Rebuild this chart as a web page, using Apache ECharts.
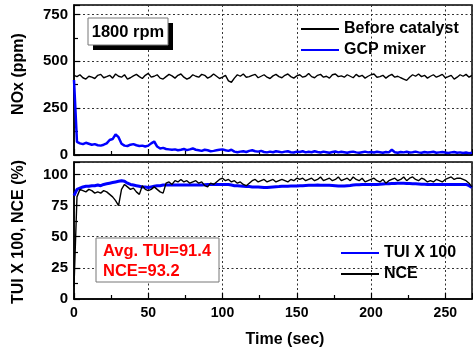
<!DOCTYPE html>
<html><head><meta charset="utf-8">
<script src="https://cdn.jsdelivr.net/npm/echarts@6/dist/echarts.min.js"></script>
<style>html,body{margin:0;padding:0;background:#fff}#c{width:473px;height:352px}</style>
</head><body><div id="c"></div>
<script>
const timeSec = [0,2,4,6,8,10,12,14,16,18,20,22,24,26,28,30,32,34,36,38,40,42,44,46,48,50,52,54,56,58,60,62,64,66,68,70,72,74,76,78,80,82,84,86,88,90,92,94,96,98,100,102,104,106,108,110,112,114,116,118,120,122,124,126,128,130,132,134,136,138,140,142,144,146,148,150,152,154,156,158,160,162,164,166,168,170,172,174,176,178,180,182,184,186,188,190,192,194,196,198,200,202,204,206,208,210,212,214,216,218,220,222,224,226,228,230,232,234,236,238,240,242,244,246,248,250,252,254,256,258,260,262,264,266,268];

const beforeCatalyst = [425,418,428,412,405,420,415,408,425,430,412,
418,425,410,432,420,415,428,405,412,422,
430,418,408,425,435,415,420,428,410,405,
418,430,422,410,425,432,415,405,412,428,
420,415,430,425,410,418,432,420,408,415,
425,395,388,410,428,420,432,415,418,425,
430,412,420,428,415,408,422,430,418,412,
425,432,418,410,422,428,415,420,435,418,
412,425,430,415,420,410,428,432,418,422,
415,428,420,412,430,418,425,410,420,428,
432,415,418,425,410,422,430,415,420,412,
405,398,415,428,420,432,418,425,410,420,
428,415,422,430,412,418,425,405,415,428,
420,430,415,425];

const gcpMixer = [400,70,62,58,65,60,55,58,52,50,55,
62,80,85,110,95,60,50,48,55,58,
52,48,50,45,50,62,72,45,35,38,
32,30,28,30,25,28,32,26,30,35,
28,25,22,28,25,20,22,25,28,30,
25,22,28,18,15,18,20,16,22,25,
20,18,22,16,14,18,15,20,17,14,
18,20,15,13,18,16,20,14,17,15,
20,16,13,18,15,12,16,19,14,17,
15,12,16,18,14,12,15,18,14,16,
13,17,15,12,16,14,28,15,12,16,
14,17,13,15,18,14,12,16,13,15,
17,12,14,16,13,11,14,16,12,14,
11,13,10,12];

const tuiX100 = [83,88,89,90,90.5,90.5,91,91,91.5,91,92,
92.5,93,93.5,94,94.5,95,94.5,93,92,91.5,
91,90.5,90,90,89.5,90,90.5,91,91,91.5,
91.5,91.5,91.5,91.5,91.5,91.5,91.5,91.5,91.5,91.5,
91.5,91.5,91.5,91.8,92,92,92,92,92,92,
92,92,91.5,91,91,90.8,90.5,90.3,90.3,90,
90,90,89.8,89.5,89.5,89.8,90,90.2,90.3,90.5,
90.5,90.6,90.7,90.8,90.8,91,91,91.2,91.3,91.3,
91.4,91.5,91.4,91.3,91.3,91.3,91.2,91,90.8,90.8,
90.8,91,91.2,91.5,91.7,91.8,92,92,92,92,
92,92,92.2,92.4,92.5,92.6,92.7,92.8,92.9,92.9,
92.9,92.8,92.7,92.6,92.5,92.4,92.2,92.1,92,92,
92,92,92,92,92,92,92,92,92,92,
92,92,91,89.5];

const nce = [10,82,88,87,86,88,87,85,86,85,87,
86,84,82,79,75,88,92,90,88,89,
86,84,91,88,87,88,90,88,86,85,
93,94,92,95,94,96,94,95,93,94,
95,93,94,91,90,93,92,94,96,97,
95,96,94,95,93,94,92,91,93,95,
96,94,95,96,94,95,96,94,95,96,
95,94,96,95,97,96,97,95,96,97,
95,96,98,95,96,97,95,96,98,95,
96,97,95,98,96,95,97,94,95,96,
97,95,94,96,93,95,96,97,95,96,
98,95,97,98,96,95,97,96,94,95,
94,96,95,94,96,97,98,96,97,97,
96,95,93,90];

const xTicks = {min: 0, max: 268, interval: 50};
const noxTicks = {min: 0, max: 800, interval: 250};
const effTicks = {min: 0, max: 110, interval: 25};

const pairs = (ys) => timeSec.map((t, i) => [t, ys[i]]);

const FONT = 'Liberation Sans, Arial, sans-serif';
const gridLine = {show: true, lineStyle: {color: '#333', type: [2, 2.5], width: 1}};
const axLine = {show: true, lineStyle: {color: '#000', width: 1.5}};
const tick = {show: true, inside: true, length: 6, lineStyle: {color: '#000', width: 1.2}};
const minor = {show: true, splitNumber: 2, length: 4, lineStyle: {color: '#000', width: 1.2}};
const xlbl = {color: '#000', fontFamily: FONT, fontWeight: 'bold', fontSize: 14};
const ylbl = {color: '#000', fontFamily: FONT, fontWeight: 'bold', fontSize: 15};
const legText = {color: '#000', fontFamily: FONT, fontWeight: 'bold', fontSize: 16, lineHeight: 16};

const chart = echarts.init(document.getElementById('c'), null, {renderer: 'canvas'});
chart.setOption({
  animation: false,
  backgroundColor: '#fff',
  grid: [
    {left: 74, top: 5, width: 398, height: 150, show: true, borderColor: '#000', borderWidth: 1.5, backgroundColor: 'transparent'},
    {left: 74, top: 162, width: 398, height: 137, show: true, borderColor: '#000', borderWidth: 1.5, backgroundColor: 'transparent'}
  ],
  xAxis: [
    {type: 'value', gridIndex: 0, min: xTicks.min, max: xTicks.max, interval: xTicks.interval,
     axisLine: axLine, axisTick: tick, minorTick: minor, splitLine: gridLine,
     axisLabel: {show: false}},
    {type: 'value', gridIndex: 1, min: xTicks.min, max: xTicks.max, interval: xTicks.interval,
     axisLine: axLine, axisTick: tick, minorTick: minor, splitLine: gridLine,
     axisLabel: Object.assign({margin: 7, showMaxLabel: false}, xlbl)}
  ],
  yAxis: [
    {type: 'value', gridIndex: 0, min: noxTicks.min, max: noxTicks.max, interval: noxTicks.interval,
     axisLine: axLine, axisTick: tick, minorTick: minor, splitLine: gridLine,
     axisLabel: Object.assign({margin: 6, showMaxLabel: false}, ylbl)},
    {type: 'value', gridIndex: 1, min: effTicks.min, max: effTicks.max, interval: effTicks.interval,
     axisLine: axLine, axisTick: tick, minorTick: minor, splitLine: gridLine,
     axisLabel: Object.assign({margin: 6, showMaxLabel: false}, ylbl)}
  ],
  legend: [
    {left: 295, top: 16, orient: 'vertical', itemWidth: 38, itemHeight: 14, itemGap: 5,
     itemStyle: {opacity: 0}, data: ['Before catalyst', 'GCP mixer'], textStyle: legText},
    {left: 335, top: 240, orient: 'vertical', itemWidth: 38, itemHeight: 14, itemGap: 5,
     itemStyle: {opacity: 0}, data: ['TUI X 100', 'NCE'], textStyle: legText}
  ],
  series: [
    {name: 'Before catalyst', type: 'line', xAxisIndex: 0, yAxisIndex: 0, data: pairs(beforeCatalyst),
     showSymbol: false, symbol: 'none', lineStyle: {color: '#000', width: 1.4}, itemStyle: {color: '#000'}, z: 3},
    {name: 'GCP mixer', type: 'line', xAxisIndex: 0, yAxisIndex: 0, data: pairs(gcpMixer),
     showSymbol: false, symbol: 'none', lineStyle: {color: '#0000ff', width: 2.5}, itemStyle: {color: '#0000ff'}, z: 4},
    {name: 'TUI X 100', type: 'line', xAxisIndex: 1, yAxisIndex: 1, data: pairs(tuiX100),
     showSymbol: false, symbol: 'none', lineStyle: {color: '#0000ff', width: 3}, itemStyle: {color: '#0000ff'}, z: 3},
    {name: 'NCE', type: 'line', xAxisIndex: 1, yAxisIndex: 1, data: pairs(nce),
     showSymbol: false, symbol: 'none', lineStyle: {color: '#000', width: 1.4}, itemStyle: {color: '#000'}, z: 4}
  ],
  graphic: [
    {type: 'rect', shape: {x: 93, y: 23, width: 80, height: 27}, style: {fill: '#000'}, z: 10},
    {type: 'rect', shape: {x: 88, y: 18, width: 80, height: 27}, style: {fill: '#fff', stroke: '#777', lineWidth: 1}, z: 11},
    {type: 'text', x: 128, y: 32, style: {text: '1800 rpm', fill: '#000', font: 'bold 16.5px ' + FONT, textAlign: 'center', textVerticalAlign: 'middle'}, z: 12},
    {type: 'rect', shape: {x: 96, y: 238, width: 123, height: 44}, style: {fill: '#fff', stroke: '#777', lineWidth: 1}, z: 11},
    {type: 'text', x: 103, y: 251, style: {text: 'Avg. TUI=91.4', fill: '#ff0000', font: 'bold 16.5px ' + FONT, textAlign: 'left', textVerticalAlign: 'middle'}, z: 12},
    {type: 'text', x: 103, y: 271, style: {text: 'NCE=93.2', fill: '#ff0000', font: 'bold 16.5px ' + FONT, textAlign: 'left', textVerticalAlign: 'middle'}, z: 12},
    {type: 'text', x: 285, y: 340, style: {text: 'Time (sec)', fill: '#000', font: 'bold 16px ' + FONT, textAlign: 'center', textVerticalAlign: 'middle'}, z: 12},
    {type: 'text', x: 19, y: 74, rotation: Math.PI / 2, style: {text: 'NOx (ppm)', fill: '#000', font: 'bold 16px ' + FONT, textAlign: 'center', textVerticalAlign: 'middle'}, z: 12},
    {type: 'text', x: 19, y: 232, rotation: Math.PI / 2, style: {text: 'TUI X 100, NCE (%)', fill: '#000', font: 'bold 16px ' + FONT, textAlign: 'center', textVerticalAlign: 'middle'}, z: 12}
  ]
});
</script>
</body></html>
